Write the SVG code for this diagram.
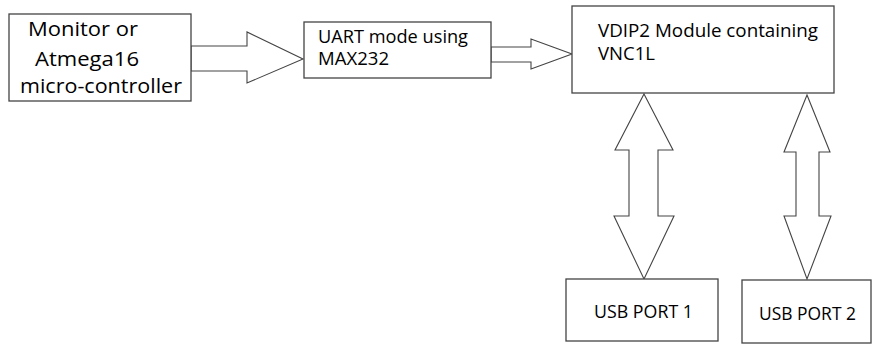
<svg xmlns="http://www.w3.org/2000/svg" width="872" height="344" viewBox="0 0 872 344">
<style>
.box{fill:#fff;stroke:#444;stroke-width:1.3}
.arr{fill:#fff;stroke:#444;stroke-width:1.1;stroke-linejoin:miter}
text{font-family:"Open Sans","Liberation Sans",sans-serif;fill:#000}
.big{font-size:20.5px}
.med{font-size:17.5px}
</style>
<rect width="872" height="344" fill="#fff"/>
<g id="connectors">
<polygon class="arr" points="191,46 247,46 247,32 303,59 247,83 247,71 191,71"/>
<polygon class="arr" points="491,47 531,47 531,39 572,54 531,69 531,62 491,62"/>
<polygon class="arr" points="644,94 673,150 658,150 658,216 674,216 644,279 614,216 629,216 629,150 615,150"/>
<polygon class="arr" points="807,95 830,152 819,152 819,216 831,216 807,279 784,216 796,216 796,152 784,152"/>
</g>
<g id="monitor">
<rect class="box" x="9" y="14" width="182" height="87"/>
<text class="big" x="28" y="36" textLength="110" lengthAdjust="spacingAndGlyphs">Monitor or</text>
<text class="big" x="35" y="66" textLength="104" lengthAdjust="spacingAndGlyphs">Atmega16</text>
<text class="big" x="20" y="93" textLength="162" lengthAdjust="spacingAndGlyphs">micro-controller</text>
</g>
<g id="uart">
<rect class="box" x="304" y="22" width="187" height="56"/>
<text class="med" x="318" y="43" textLength="150" lengthAdjust="spacingAndGlyphs">UART mode using</text>
<text class="med" x="318" y="65" textLength="71" lengthAdjust="spacingAndGlyphs">MAX232</text>
</g>
<g id="vdip2">
<rect class="box" x="572" y="6" width="262" height="87"/>
<text class="med" x="598" y="37" textLength="220" lengthAdjust="spacingAndGlyphs">VDIP2 Module containing</text>
<text class="med" x="598" y="60" textLength="57" lengthAdjust="spacingAndGlyphs">VNC1L</text>
</g>
<g id="usb1">
<rect class="box" x="566" y="279" width="152" height="62"/>
<text class="med" x="594" y="318" textLength="99" lengthAdjust="spacingAndGlyphs">USB PORT 1</text>
</g>
<g id="usb2">
<rect class="box" x="742" y="280" width="129" height="63"/>
<text class="med" x="759" y="320" textLength="97" lengthAdjust="spacingAndGlyphs">USB PORT 2</text>
</g>
</svg>
